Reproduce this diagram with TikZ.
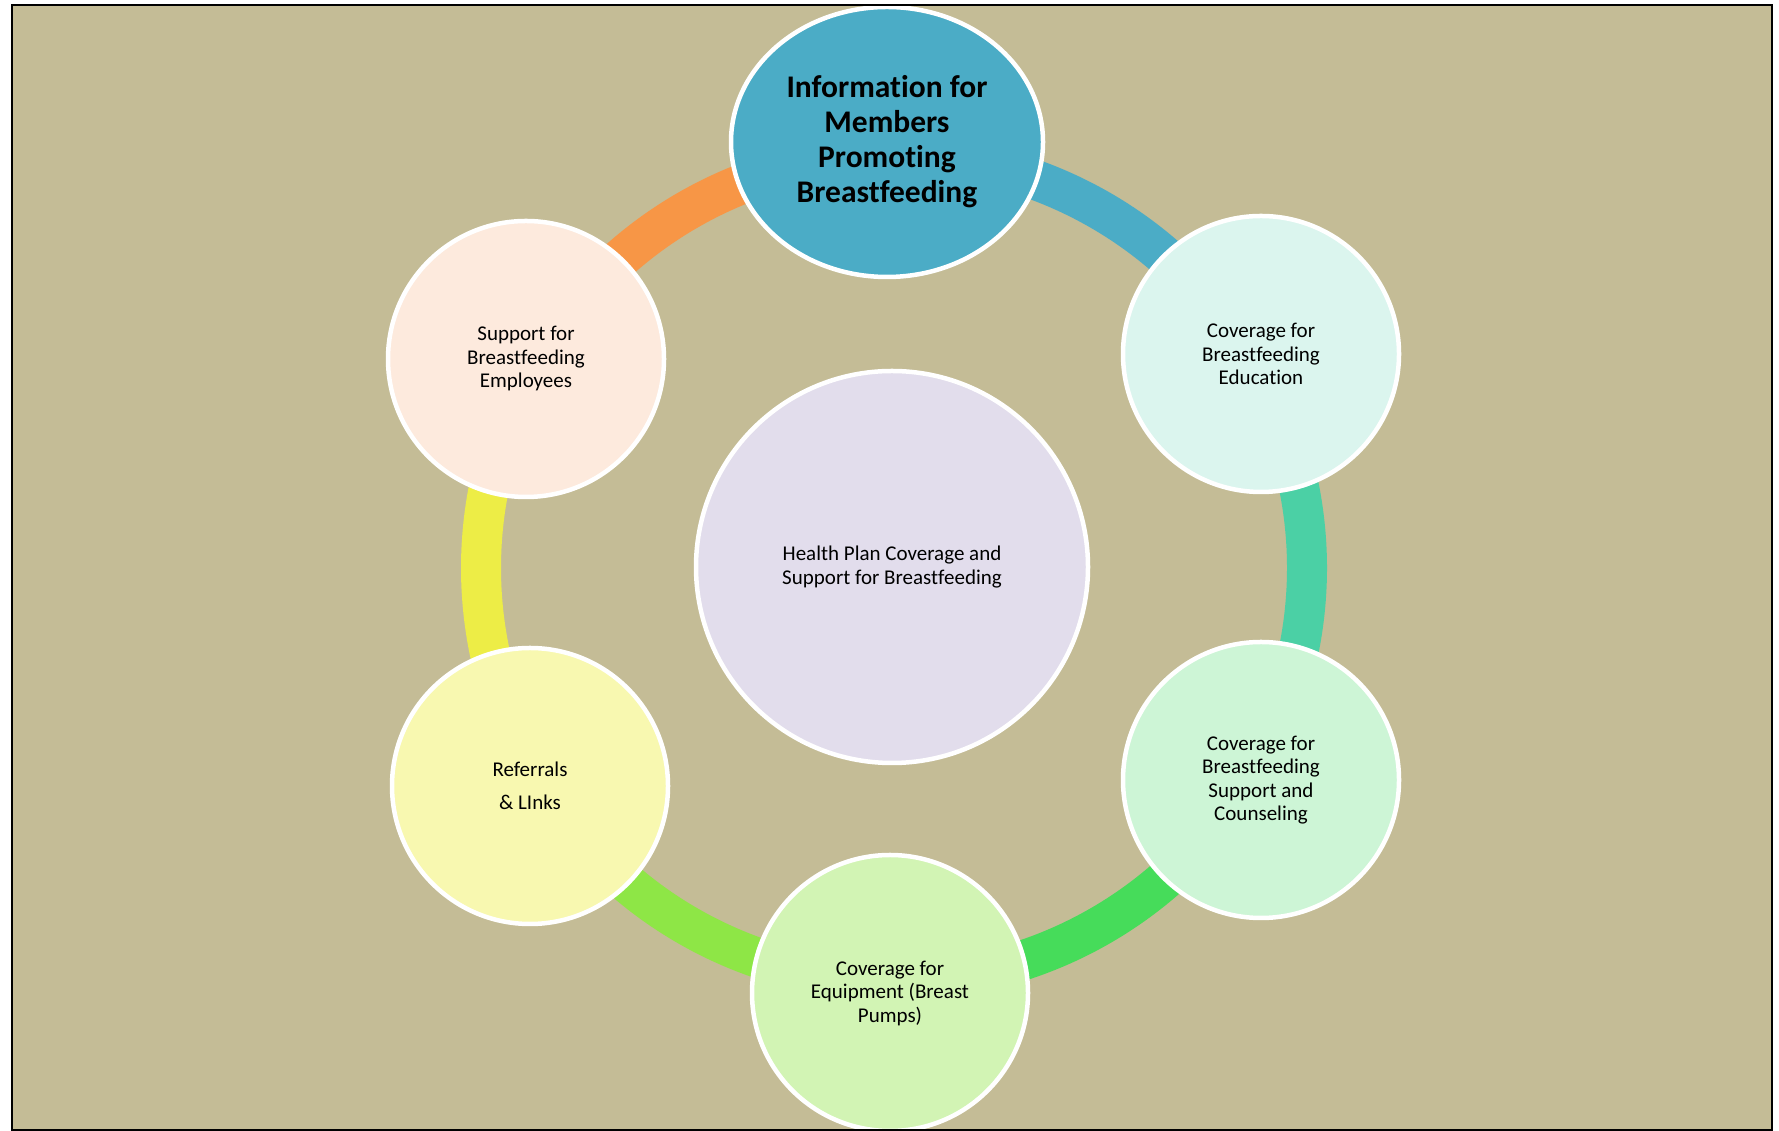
\documentclass[tikz,border=0pt]{standalone}
\usepackage{fontspec}
\setmainfont{Carlito}[Ligatures={NoCommon,NoRare,NoContextual}]
\usetikzlibrary{shapes.geometric}
\definecolor{bgtan}{HTML}{C4BC96}
\definecolor{cblue}{HTML}{4BACC6}
\definecolor{cteal}{HTML}{4BD0A5}
\definecolor{cgreen}{HTML}{46DC5A}
\definecolor{clgreen}{HTML}{8EE646}
\definecolor{cyellow}{HTML}{EDED46}
\definecolor{corange}{HTML}{F79646}
\definecolor{fmint}{HTML}{DBF5EE}
\definecolor{fgreen}{HTML}{CDF5D6}
\definecolor{flgreen}{HTML}{D2F4B4}
\definecolor{fyellow}{HTML}{F8F8B0}
\definecolor{fpeach}{HTML}{FDEADD}
\definecolor{flav}{HTML}{E2DDEC}
\tikzset{
  ringseg/.style={line width=40pt},
  bubble/.style={circle, draw=white, line width=4.5pt, minimum size=276pt, inner sep=0pt, align=center,
    font=\fontsize{21}{23.5}\selectfont},
}
\begin{document}
\begin{tikzpicture}[x=1pt,y=1pt]
\useasboundingbox (0,0) rectangle (1779,1131);
\fill[bgtan] (12,1) rectangle (1772,1126);
\coordinate (ring) at (894,563);
% ring segments
\draw[ringseg, cblue]   ([shift={(90:413pt)}]ring) arc (90:30:413pt);
\draw[ringseg, cteal]   ([shift={(30:413pt)}]ring) arc (30:-30:413pt);
\draw[ringseg, cgreen]  ([shift={(-30:413pt)}]ring) arc (-30:-90:413pt);
\draw[ringseg, clgreen] ([shift={(-90:413pt)}]ring) arc (-90:-150:413pt);
\draw[ringseg, cyellow] ([shift={(210:413pt)}]ring) arc (210:150:413pt);
\draw[ringseg, corange] ([shift={(150:413pt)}]ring) arc (150:90:413pt);
% nodes
\node[ellipse, draw=white, line width=4.5pt, fill=cblue, minimum width=312pt, minimum height=270pt,
  inner sep=0pt, align=center, font=\fontsize{31.5}{35}\selectfont\bfseries] (info) at (887,989)
  {Information for\\Members\\Promoting\\Breastfeeding};
\node[bubble, fill=fmint] (edu) at (1261,777) {Coverage for\\Breastfeeding\\Education};
\node[bubble, fill=fgreen] (couns) at (1261,351) {Coverage for\\Breastfeeding\\Support and\\Counseling};
\node[bubble, fill=flgreen] (equip) at (890,138) {Coverage for\\Equipment (Breast\\Pumps)};
\node[bubble, fill=fyellow, font=\fontsize{21}{33}\selectfont] (refs) at (530,345) {Referrals\\\& LInks};
\node[bubble, fill=fpeach] (empl) at (526,772) {Support for\\Breastfeeding\\Employees};
\node[bubble, fill=flav, minimum size=392pt] (hub) at (892,564) {Health Plan Coverage and\\Support for Breastfeeding};
% frame
\draw[black, line width=2.5pt] (12,1) rectangle (1772,1126);
\end{tikzpicture}
\end{document}
